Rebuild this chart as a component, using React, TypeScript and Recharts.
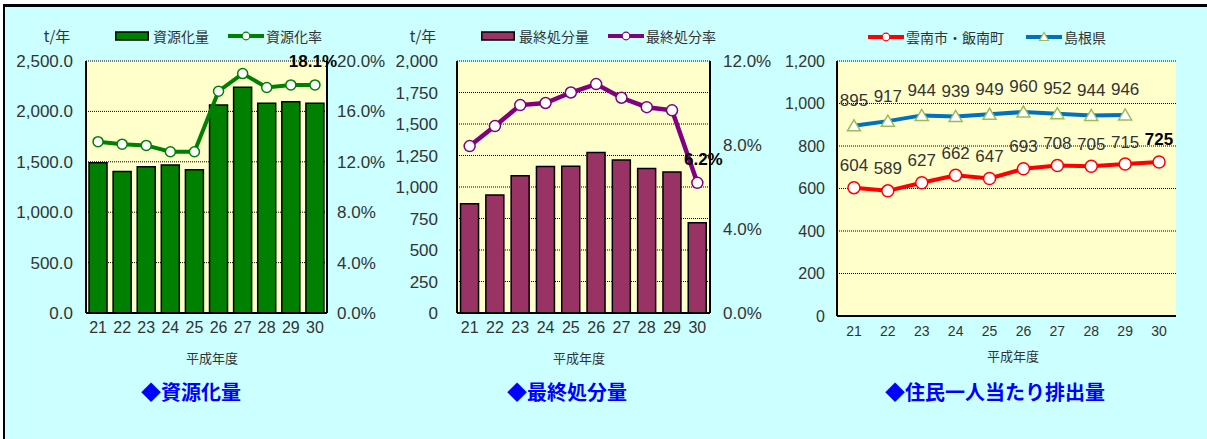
import React from 'react'
import { ComposedChart, Bar, Line, XAxis, YAxis, CartesianGrid, LabelList } from 'recharts'

// 平成年度
const years = ['21', '22', '23', '24', '25', '26', '27', '28', '29', '30']

// 資源化量 (t/年) と 資源化率 (%)
const recycleAmount = [1490, 1405, 1450, 1468, 1422, 2063, 2240, 2080, 2096, 2080]
const recycleRate = [13.6, 13.4, 13.3, 12.8, 12.8, 17.6, 19.0, 17.9, 18.1, 18.1]

// 最終処分量 (t/年) と 最終処分率 (%)
const disposalAmount = [868, 937, 1090, 1162, 1164, 1273, 1215, 1146, 1120, 717]
const disposalRate = [7.95, 8.9, 9.9, 10.0, 10.5, 10.9, 10.25, 9.8, 9.65, 6.2]

// 住民一人当たり排出量
const unnanIinan = [604, 589, 627, 662, 647, 693, 708, 705, 715, 725]
const shimane: (number | null)[] = [895, 917, 944, 939, 949, 960, 952, 944, 946, null]

const recycleTicks = [0, 500, 1000, 1500, 2000, 2500]
const recycleRateTicks = [0, 4, 8, 12, 16, 20]
const disposalTicks = [0, 250, 500, 750, 1000, 1250, 1500, 1750, 2000]
const disposalRateTicks = [0, 4, 8, 12]
const perCapitaTicks = [0, 200, 400, 600, 800, 1000, 1200]

const seriesNames = {
  recycleAmount: '資源化量',
  recycleRate: '資源化率',
  disposalAmount: '最終処分量',
  disposalRate: '最終処分率',
  unnanIinan: '雲南市・飯南町',
  shimane: '島根県',
}

const recycleData = years.map((y, i) => ({ year: y, amount: recycleAmount[i], rate: recycleRate[i] }))
const disposalData = years.map((y, i) => ({ year: y, amount: disposalAmount[i], rate: disposalRate[i] }))
const perCapitaData = years.map((y, i) => ({ year: y, local: unnanIinan[i], pref: shimane[i] }))

const FONT = "'Liberation Sans', 'Noto Sans CJK JP', sans-serif"
const JP = "'Noto Sans CJK JP', sans-serif"
const TEXT = '#333'
const PLOT_BG = '#FFFFCC'

const withComma = (v: number) => v.toLocaleString('en-US')
const withComma1 = (v: number) => v.toLocaleString('en-US', { minimumFractionDigits: 1, maximumFractionDigits: 1 })
const pct1 = (v: number) => v.toFixed(1) + '%'

const tickStyle = { fill: TEXT, fontSize: 17, fontFamily: FONT }
const xTickStyle = { fill: TEXT, fontSize: 16, fontFamily: FONT }

const lastOnly = (fmt: (v: number) => string, dx = 0) => (p: any) => {
  if (p.index !== years.length - 1) return null
  return (
    <text x={p.x + dx} y={p.y - 22} textAnchor="middle" dominantBaseline="middle"
      fontSize={17} fontWeight="bold" fontFamily={FONT} fill="#000">
      {fmt(p.value)}
    </text>
  )
}

const localLabel = (p: any) => {
  const last = p.index === years.length - 1
  return (
    <text x={p.x} y={p.y - 21} textAnchor="middle" dominantBaseline="middle"
      fontSize={17} fontWeight={last ? 'bold' : 'normal'} fontFamily={FONT} fill={last ? '#000' : TEXT}>
      {p.value}
    </text>
  )
}

const prefLabel = (p: any) => {
  if (p.value == null) return null
  return (
    <text x={p.x} y={p.y - 24} textAnchor="middle" dominantBaseline="middle"
      fontSize={17} fontFamily={FONT} fill={TEXT}>
      {p.value}
    </text>
  )
}

const TriangleDot = (p: any) => {
  const { cx, cy, value, index } = p
  if (value == null || cx == null || cy == null) return <g key={`t${index}`} />
  return (
    <polygon key={`t${index}`} points={`${cx},${cy - 6} ${cx - 6.5},${cy + 5} ${cx + 6.5},${cy + 5}`}
      fill="#fff" stroke="#9BBB59" strokeWidth={1.5} />
  )
}

function BoxSwatch({ color }: { color: string }) {
  return (
    <svg width={34} height={10} style={{ marginRight: 4 }}>
      <rect x={0.75} y={1} width={32.5} height={8} fill={color} stroke="#000" strokeWidth={1.5} />
    </svg>
  )
}

function LineSwatch({ color, marker, markerStroke }: { color: string; marker: 'circle' | 'triangle'; markerStroke?: string }) {
  return (
    <svg width={36} height={12} style={{ marginRight: 2 }}>
      <line x1={0} y1={6} x2={36} y2={6} stroke={color} strokeWidth={4} />
      {marker === 'circle'
        ? <circle cx={18} cy={6} r={3.8} fill="#fff" stroke={markerStroke ?? color} strokeWidth={1.2} />
        : <polygon points="18,1.5 13.5,9.5 22.5,9.5" fill="#fff" stroke={markerStroke ?? color} strokeWidth={1.2} />}
    </svg>
  )
}

function Legend({ left, top, items }: { left: number; top: number; items: { swatch: React.ReactNode; label: string; gap?: number }[] }) {
  return (
    <div style={{ position: 'absolute', left, top, display: 'flex', alignItems: 'center', fontFamily: JP, fontSize: 14, color: TEXT, whiteSpace: 'nowrap' }}>
      {items.map((it, i) => (
        <div key={i} style={{ display: 'flex', alignItems: 'center', marginRight: it.gap ?? 18 }}>
          {it.swatch}
          <span>{it.label}</span>
        </div>
      ))}
    </div>
  )
}

function Centered({ x, y, children, style }: { x: number; y: number; children: React.ReactNode; style?: React.CSSProperties }) {
  return (
    <div style={{ position: 'absolute', left: x, top: y, transform: 'translate(-50%, -50%)', whiteSpace: 'nowrap', ...style }}>
      {children}
    </div>
  )
}

const unitStyle: React.CSSProperties = { fontFamily: JP, fontSize: 15, color: TEXT }
const xTitleStyle: React.CSSProperties = { fontFamily: JP, fontSize: 13, color: TEXT }
const titleStyle: React.CSSProperties = { fontFamily: JP, fontSize: 20, fontWeight: 'bold', color: '#0000FF' }

const frame = { stroke: '#000', strokeWidth: 2 }

export default function App() {
  return (
    <div style={{ position: 'absolute', left: 0, top: 0, width: 1207, height: 439, overflow: 'hidden', background: '#fff' }}>
      <div style={{ position: 'absolute', left: 3, top: 4, width: 1210, height: 500, background: '#CCFFFF', borderTop: '3px solid #000', borderLeft: '2px solid #000', boxSizing: 'border-box' }} />

      {/* 資源化量 */}
      <div style={{ position: 'absolute', left: 0, top: 0 }}>
        <ComposedChart width={390} height={360} data={recycleData} margin={{ top: 61, right: 0, bottom: 17, left: 0 }} barCategoryGap="12.5%">
          <CartesianGrid vertical={false} fill={PLOT_BG} fillOpacity={1} stroke="#000" strokeDasharray="1 1" />
          <XAxis dataKey="year" height={30} tick={xTickStyle} tickLine={false} tickSize={0} tickMargin={9} axisLine={frame} interval={0} />
          <XAxis xAxisId="top" dataKey="year" orientation="top" height={0} tick={false} tickLine={false} axisLine={frame} />
          <YAxis width={86} domain={[0, 2500]} ticks={recycleTicks} tickFormatter={withComma1} tick={tickStyle} tickLine={false} tickSize={0} tickMargin={13} axisLine={frame} />
          <YAxis yAxisId="rate" orientation="right" width={63} domain={[0, 20]} ticks={recycleRateTicks} tickFormatter={pct1} tick={tickStyle} tickLine={false} tickSize={0} tickMargin={10} axisLine={frame} />
          <Bar dataKey="amount" name={seriesNames.recycleAmount} fill="#008000" stroke="#000" strokeWidth={1.5} isAnimationActive={false} />
          <Line yAxisId="rate" dataKey="rate" name={seriesNames.recycleRate} stroke="#008000" strokeWidth={4}
            dot={{ r: 5, fill: '#fff', stroke: '#008000', strokeWidth: 1.5 }} isAnimationActive={false}>
            <LabelList dataKey="rate" content={lastOnly(pct1, -2)} />
          </Line>
        </ComposedChart>
      </div>
      <Centered x={57} y={35} style={unitStyle}>t/年</Centered>
      <Legend left={115} top={26} items={[
        { swatch: <BoxSwatch color="#008000" />, label: seriesNames.recycleAmount, gap: 19 },
        { swatch: <LineSwatch color="#008000" marker="circle" />, label: seriesNames.recycleRate },
      ]} />
      <Centered x={212} y={357} style={xTitleStyle}>平成年度</Centered>
      <Centered x={191} y={391} style={titleStyle}>◆資源化量</Centered>

      {/* 最終処分量 */}
      <div style={{ position: 'absolute', left: 390, top: 0 }}>
        <ComposedChart width={390} height={360} data={disposalData} margin={{ top: 61, right: 0, bottom: 17, left: 0 }} barCategoryGap="14%">
          <CartesianGrid vertical={false} fill={PLOT_BG} fillOpacity={1} stroke="#000" strokeDasharray="1 1" />
          <XAxis dataKey="year" height={30} tick={xTickStyle} tickLine={false} tickSize={0} tickMargin={9} axisLine={frame} interval={0} />
          <XAxis xAxisId="top" dataKey="year" orientation="top" height={0} tick={false} tickLine={false} axisLine={frame} />
          <YAxis width={67} domain={[0, 2000]} ticks={disposalTicks} tickFormatter={withComma} tick={tickStyle} tickLine={false} tickSize={0} tickMargin={19} axisLine={frame} />
          <YAxis yAxisId="rate" orientation="right" width={70} domain={[0, 12]} ticks={disposalRateTicks} tickFormatter={pct1} tick={tickStyle} tickLine={false} tickSize={0} tickMargin={13} axisLine={frame} />
          <Bar dataKey="amount" name={seriesNames.disposalAmount} fill="#993366" stroke="#000" strokeWidth={1.5} isAnimationActive={false} />
          <Line yAxisId="rate" dataKey="rate" name={seriesNames.disposalRate} stroke="#800080" strokeWidth={4.5}
            dot={{ r: 5.5, fill: '#fff', stroke: '#800080', strokeWidth: 1.5 }} isAnimationActive={false}>
            <LabelList dataKey="rate" content={lastOnly(pct1, 6)} />
          </Line>
        </ComposedChart>
      </div>
      <Centered x={423} y={35} style={unitStyle}>t/年</Centered>
      <Legend left={481} top={26} items={[
        { swatch: <BoxSwatch color="#993366" />, label: seriesNames.disposalAmount, gap: 19 },
        { swatch: <LineSwatch color="#800080" marker="circle" />, label: seriesNames.disposalRate },
      ]} />
      <Centered x={579} y={357} style={xTitleStyle}>平成年度</Centered>
      <Centered x={567} y={391} style={titleStyle}>◆最終処分量</Centered>

      {/* 住民一人当たり排出量 */}
      <div style={{ position: 'absolute', left: 780, top: 0 }}>
        <ComposedChart width={427} height={360} data={perCapitaData} margin={{ top: 61, right: 31, bottom: 14, left: 0 }}>
          <CartesianGrid vertical={false} fill={PLOT_BG} fillOpacity={1} stroke="#000" strokeDasharray="1 1" />
          <XAxis dataKey="year" scale="band" height={30} tick={{ ...xTickStyle, fontSize: 14 }} tickLine={false} tickSize={0} tickMargin={10} axisLine={frame} interval={0} />
          <XAxis xAxisId="top" dataKey="year" scale="band" orientation="top" height={0} tick={false} tickLine={false} axisLine={frame} />
          <YAxis width={57} domain={[0, 1200]} ticks={perCapitaTicks} tickFormatter={withComma} tick={{ ...tickStyle, fontSize: 16 }} tickLine={false} tickSize={0} tickMargin={12} axisLine={frame} />
          <YAxis yAxisId="frame" orientation="right" width={0} tick={false} tickLine={false} axisLine={frame} />
          <Line dataKey="pref" name={seriesNames.shimane} stroke="#0070C0" strokeWidth={4} dot={TriangleDot} isAnimationActive={false}>
            <LabelList dataKey="pref" content={prefLabel} />
          </Line>
          <Line dataKey="local" name={seriesNames.unnanIinan} stroke="#FF0000" strokeWidth={4}
            dot={{ r: 6, fill: '#fff', stroke: '#FF0000', strokeWidth: 1.5 }} isAnimationActive={false}>
            <LabelList dataKey="local" content={localLabel} />
          </Line>
        </ComposedChart>
      </div>
      <Legend left={868} top={27} items={[
        { swatch: <LineSwatch color="#FF0000" marker="circle" />, label: seriesNames.unnanIinan, gap: 22 },
        { swatch: <LineSwatch color="#0070C0" marker="triangle" markerStroke="#9BBB59" />, label: seriesNames.shimane },
      ]} />
      <Centered x={1013} y={355} style={xTitleStyle}>平成年度</Centered>
      <Centered x={995} y={391} style={titleStyle}>◆住民一人当たり排出量</Centered>
    </div>
  )
}
